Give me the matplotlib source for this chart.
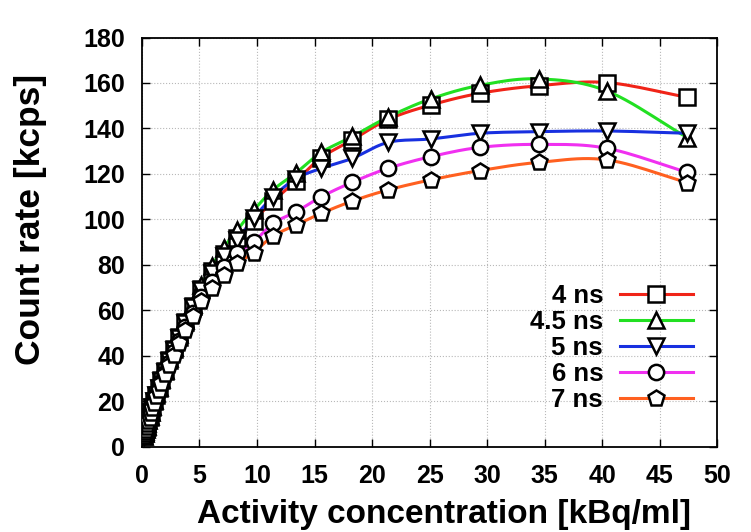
import numpy as np
import matplotlib
matplotlib.use("Agg")
import matplotlib.pyplot as plt
from matplotlib.lines import Line2D

plt.rcParams['font.family'] = ['Liberation Sans', 'DejaVu Sans']
plt.rcParams['font.weight'] = 'bold'

# activity concentration [kBq/ml]
activity = [0.22, 0.26, 0.3, 0.35, 0.41, 0.48, 0.56, 0.66, 0.77, 0.9, 1.06, 1.24,
            1.45, 1.7, 2.0, 2.35, 2.75, 3.2, 3.75, 4.4, 5.15, 6.05, 7.1, 8.3,
            9.7, 11.4, 13.4, 15.6, 18.3, 21.4, 25.1, 29.4, 34.5, 40.4, 47.4]

# count rate [kcps] per coincidence window
rate_4ns = [5.0, 5.9, 6.7, 7.7, 8.9, 10.3, 11.8, 13.3, 15.3, 17.7, 20.2, 23.0,
            26.0, 29.5, 33.5, 38.3, 43.0, 48.5, 55.0, 62.0, 69.5, 77.5, 85.0, 92.0,
            99.5, 108.0, 117.0, 127.2, 135.0, 144.0, 150.3, 155.5, 158.8, 160.2, 153.7]
rate_45ns = [5.0, 6.0, 6.8, 7.8, 9.0, 10.5, 12.0, 13.5, 15.5, 18.0, 20.5, 23.5,
             26.5, 30.0, 34.0, 39.0, 44.0, 49.5, 56.0, 63.0, 71.0, 79.5, 87.5, 95.5,
             104.0, 113.0, 120.5, 129.5, 136.5, 145.0, 153.0, 159.0, 161.8, 156.5, 136.0]
rate_5ns = [4.9, 5.8, 6.6, 7.6, 8.8, 10.2, 11.7, 13.2, 15.2, 17.5, 20.0, 22.8,
            25.7, 29.0, 33.0, 37.8, 42.5, 48.0, 54.5, 61.5, 69.0, 76.5, 84.0, 91.0,
            100.5, 110.0, 118.0, 122.5, 126.9, 133.9, 135.4, 137.9, 138.6, 138.9, 137.9]
rate_6ns = [4.9, 5.7, 6.5, 7.5, 8.7, 10.1, 11.6, 13.1, 15.0, 17.3, 19.8, 22.5,
            25.3, 28.5, 32.5, 37.0, 41.5, 46.5, 52.5, 59.0, 66.0, 72.5, 79.3, 85.4,
            90.0, 98.3, 103.4, 110.0, 116.4, 122.5, 127.6, 131.7, 133.0, 131.3, 120.7]
rate_7ns = [4.8, 5.6, 6.4, 7.4, 8.6, 10.0, 11.4, 12.9, 14.8, 17.1, 19.5, 22.2,
            24.9, 28.0, 32.0, 36.2, 40.5, 45.5, 51.5, 57.5, 64.0, 70.0, 75.6, 80.7,
            85.4, 92.7, 97.6, 102.7, 108.1, 113.0, 117.4, 121.5, 125.1, 126.2, 116.2]

labels = ['4 ns', '4.5 ns', '5 ns', '6 ns', '7 ns']
series = [rate_4ns, rate_45ns, rate_5ns, rate_6ns, rate_7ns]
colors = ['#f02418', '#22e022', '#1830e0', '#f030f0', '#ff6020']
markers = ['s', '^', 'v', 'o', 'p']
msizes = [12, 12, 12, 11, 12]


def smooth(x, y, n=12):
    # catmull-rom curve through the points, only for drawing the line
    x = np.asarray(x, float)
    y = np.asarray(y, float)
    px = np.concatenate([[2 * x[0] - x[1]], x, [2 * x[-1] - x[-2]]])
    py = np.concatenate([[2 * y[0] - y[1]], y, [2 * y[-1] - y[-2]]])
    t = np.linspace(0, 1, n, endpoint=False)
    xs, ys = [], []
    for i in range(1, len(px) - 2):
        for p, out in ((px, xs), (py, ys)):
            p0, p1, p2, p3 = p[i - 1], p[i], p[i + 1], p[i + 2]
            out.extend(0.5 * (2 * p1 + (-p0 + p2) * t
                              + (2 * p0 - 5 * p1 + 4 * p2 - p3) * t ** 2
                              + (-p0 + 3 * p1 - 3 * p2 + p3) * t ** 3))
    xs.append(x[-1])
    ys.append(y[-1])
    return xs, ys


fig = plt.figure(figsize=(7.51, 5.32), dpi=100)
ax = fig.add_axes([0.189, 0.160, 0.766, 0.7695])

for rate, c in zip(series, colors):
    sx, sy = smooth(activity, rate)
    ax.plot(sx, sy, color=c, lw=2.2, zorder=2)

for rate, m, ms in zip(series, markers, msizes):
    ax.plot(activity, rate, ls='none', marker=m, ms=ms, mfc='white',
            mec='black', mew=1.8, zorder=3)

ax.set_xlim(0, 50)
ax.set_ylim(0, 180)
ax.set_xticks(np.arange(0, 51, 5))
ax.set_yticks(np.arange(0, 181, 20))
ax.grid(True, color='#b8b8b8', ls=':', lw=0.8)
ax.tick_params(direction='in', length=6, width=1, top=True, right=True,
               labelsize=18, pad=12)
for s in ax.spines.values():
    s.set_linewidth(1.3)

ax.set_xlabel('Activity concentration [kBq/ml]', fontsize=24, fontweight='bold')
ax.set_ylabel('Count rate [kcps]', fontsize=25.5, fontweight='bold')
ax.xaxis.set_label_coords(0.525, -0.127)
ax.yaxis.set_label_coords(-0.165, 0.556)

handles = [Line2D([0], [0], color=c, lw=2.2, marker=m, ms=ms, mfc='white',
                  mec='black', mew=1.8)
           for c, m, ms in zip(colors, markers, msizes)]
leg = ax.legend(handles, labels, loc='center right', bbox_to_anchor=(0.958, 0.242),
                frameon=False, markerfirst=False, fontsize=18.5, handlelength=2.85,
                handletextpad=0.65, labelspacing=0.08, borderpad=0, borderaxespad=0)

fig.savefig('out.png', dpi=100)
